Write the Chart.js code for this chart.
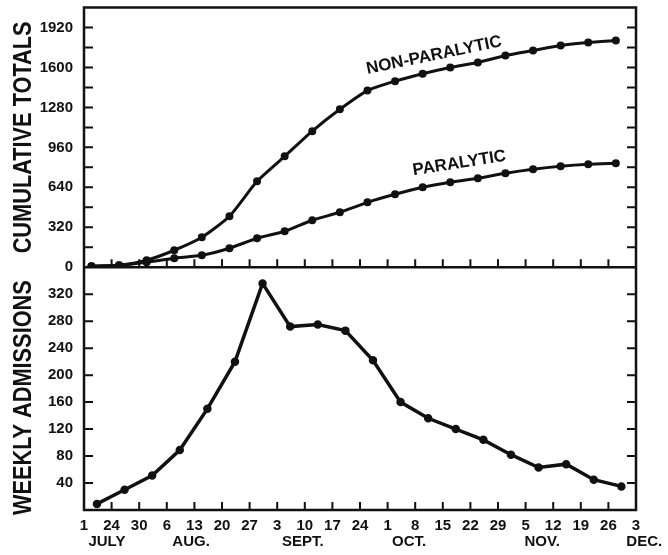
<!DOCTYPE html>
<html lang="en">
<head>
<meta charset="UTF-8">
<title>Cumulative totals and weekly admissions</title>
<script src="https://cdn.jsdelivr.net/npm/chart.js"></script>
<style>
  html, body { margin: 0; padding: 0; background: #fff; }
  #wrap { width: 668px; height: 555px; }
</style>
</head>
<body>
<div id="wrap"><canvas id="chart"></canvas></div>
<script>
// x axis: one tick per week, July 17 .. Dec 3
const weekLabels = ["1", "24", "30", "6", "13", "20", "27", "3", "10", "17", "24",
                    "1", "8", "15", "22", "29", "5", "12", "19", "26", "3"];
const monthNames = ["JULY", "AUG.", "SEPT.", "OCT.", "NOV.", "DEC."];
const monthAt = [0.83, 3.88, 7.93, 11.78, 16.6, 20.3];

// values
const nonParalytic = [8, 16, 56, 136, 240, 408, 688, 888, 1090, 1265, 1415, 1490,
                      1550, 1600, 1640, 1696, 1736, 1776, 1800, 1816];
const paralytic = [8, 16, 40, 72, 96, 152, 232, 288, 376, 440, 520, 584,
                   640, 680, 712, 752, 784, 808, 824, 832];
const weeklyAdmissions = [9, 30, 51, 89, 150, 220, 336, 272, 275, 266, 222, 160,
                          136, 120, 104, 82, 63, 68, 45, 35];

const curveNotes = [
  { text: "NON-PARALYTIC", week: 12.68, value: 1696, angle: -11.7 },
  { text: "PARALYTIC", week: 13.6, value: 832, angle: -9 }
];
const axisTitles = { yTop: "CUMULATIVE TOTALS", yBot: "WEEKLY ADMISSIONS" };

const INK = "#111";
const FONT = "'Liberation Sans', Arial, sans-serif";

// cumulative points sit a little past each tick, weekly ones near mid-week
const cumPts = arr => arr.map((v, i) => ({ x: i + 0.27, y: v }));
const weekPts = arr => arr.map((v, i) => ({ x: i + 0.47, y: v }));

const framePlugin = {
  id: "frame",
  afterDraw(chart) {
    const ctx = chart.ctx;
    const a = chart.chartArea;
    const x = chart.scales.x, yt = chart.scales.yTop, yb = chart.scales.yBot;
    ctx.save();
    ctx.strokeStyle = INK;
    ctx.lineWidth = 2.5;
    ctx.strokeRect(a.left, a.top, a.right - a.left, a.bottom - a.top);
    // divider between the panels
    ctx.beginPath();
    ctx.moveTo(a.left, yt.bottom);
    ctx.lineTo(a.right, yt.bottom);
    ctx.stroke();

    ctx.lineWidth = 2;
    ctx.beginPath();
    // inward ticks along the two horizontal axes
    x.ticks.forEach(t => {
      const px = x.getPixelForValue(t.value);
      ctx.moveTo(px, a.bottom); ctx.lineTo(px, a.bottom - 8);
      ctx.moveTo(px, yt.bottom); ctx.lineTo(px, yt.bottom - 8);
    });
    // inward ticks left and right of both panels
    [yt, yb].forEach(s => {
      s.ticks.forEach(t => {
        if (t.value === s.min || t.value === s.max) return;
        const py = s.getPixelForValue(t.value);
        ctx.moveTo(a.left, py); ctx.lineTo(a.left + 9, py);
        ctx.moveTo(a.right, py); ctx.lineTo(a.right - 9, py);
      });
    });
    ctx.stroke();

    ctx.fillStyle = INK;
    ctx.textAlign = "center";
    ctx.textBaseline = "middle";

    // month names under the week numbers
    ctx.font = "bold 15px " + FONT;
    monthNames.forEach((m, i) => {
      ctx.fillText(m, x.getPixelForValue(monthAt[i]), 542);
    });

    // curve names
    ctx.font = "bold 17px " + FONT;
    curveNotes.forEach(n => {
      ctx.save();
      ctx.translate(x.getPixelForValue(n.week), yt.getPixelForValue(n.value));
      ctx.rotate(n.angle * Math.PI / 180);
      ctx.fillText(n.text, 0, 0);
      ctx.restore();
    });

    // vertical axis titles, a bit condensed like the original lettering
    ctx.font = "bold 25px " + FONT;
    [[yt, axisTitles.yTop, 0], [yb, axisTitles.yBot, 9]].forEach(([s, text, shift]) => {
      ctx.save();
      ctx.translate(23, (s.top + s.bottom) / 2 + shift);
      ctx.rotate(-Math.PI / 2);
      ctx.scale(0.87, 1);
      ctx.fillText(text, 0, 1);
      ctx.restore();
    });
    ctx.restore();
  }
};

const tickFont = { family: FONT, size: 15, weight: "bold" };

// keep the plot area exactly where the original frame is
function fixY(s) {
  s.width = 84;
  s.paddingTop = 0;
  s.paddingBottom = 0;
}

new Chart(document.getElementById("chart"), {
  type: "line",
  data: {
    datasets: [
      {
        label: "Non-paralytic",
        data: cumPts(nonParalytic),
        yAxisID: "yTop",
        borderColor: INK, backgroundColor: INK,
        borderWidth: 3, pointRadius: 2.5, tension: 0.2
      },
      {
        label: "Paralytic",
        data: cumPts(paralytic),
        yAxisID: "yTop",
        borderColor: INK, backgroundColor: INK,
        borderWidth: 3, pointRadius: 2.5, tension: 0.2
      },
      {
        label: "Weekly admissions",
        data: weekPts(weeklyAdmissions),
        yAxisID: "yBot",
        borderColor: INK, backgroundColor: INK,
        borderWidth: 3.5, pointRadius: 2.5, tension: 0
      }
    ]
  },
  options: {
    responsive: true,
    maintainAspectRatio: false,
    animation: false,
    layout: { padding: { top: 7, right: 32, left: 0, bottom: 0 } },
    plugins: { legend: { display: false }, tooltip: { enabled: false } },
    scales: {
      x: {
        type: "linear",
        min: 0, max: 20,
        grid: { display: false, drawTicks: false },
        border: { display: false },
        ticks: {
          stepSize: 1, autoSkip: false, maxRotation: 0, padding: 7,
          color: INK, font: tickFont,
          callback: v => weekLabels[v]
        },
        afterFit: s => { s.height = 45; }
      },
      yBot: {
        type: "linear",
        position: "left",
        stack: "panels",
        stackWeight: 243,
        min: 0, max: 360,
        grid: { display: false, drawTicks: false },
        border: { display: false },
        ticks: {
          stepSize: 40, autoSkip: false, padding: 11, color: INK, font: tickFont,
          callback: v => (v === 0 || v === 360) ? "" : v
        },
        afterFit: fixY
      },
      yTop: {
        type: "linear",
        position: "left",
        stack: "panels",
        stackWeight: 260,
        min: 0, max: 2080,
        grid: { display: false, drawTicks: false },
        border: { display: false },
        ticks: {
          stepSize: 160, autoSkip: false, padding: 11, color: INK, font: tickFont,
          callback: v => (v % 320 === 0) ? v : ""
        },
        afterFit: fixY
      }
    }
  },
  plugins: [framePlugin]
});
</script>
</body>
</html>
